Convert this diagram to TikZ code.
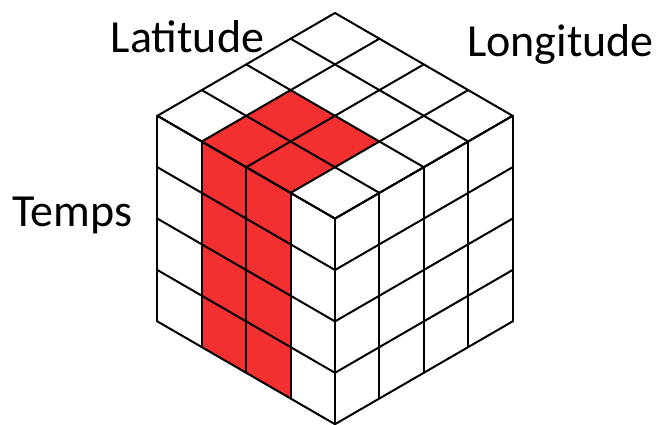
\documentclass[tikz,border=0pt]{standalone}
\usepackage{fontspec}
\setmainfont{Carlito}
\usepackage{tikz}
\definecolor{CubeRed}{RGB}{242,48,48}
\definecolor{CubeLine}{HTML}{000000}

\begin{document}
\begin{tikzpicture}[x={(-44.4pt,-25.7pt)}, y={(44.4pt,-25.7pt)}, z={(0pt,-51.4pt)},
  grid/.style={draw=CubeLine, line width=2pt, line join=round, line cap=round},
  slice/.style={fill=CubeRed},
  axislabel/.style={inner sep=0pt, anchor=base, font=\fontsize{46}{55}\selectfont}]
  \path[use as bounding box] (-335pt,13pt) rectangle (332pt,-412pt);
  % selected column
  \fill[slice] (2,1,0) -- (2,3,0) -- (4,3,0) -- (4,1,0) -- cycle;
  \fill[slice] (4,1,0) -- (4,3,0) -- (4,3,4) -- (4,1,4) -- cycle;
  % grid on the three visible faces
  \foreach \n in {0,...,4} {
    \draw[grid] (\n,0,0) -- (\n,4,0);
    \draw[grid] (0,\n,0) -- (4,\n,0);
    \draw[grid] (4,\n,0) -- (4,\n,4);
    \draw[grid] (4,0,\n) -- (4,4,\n);
    \draw[grid] (\n,4,0) -- (\n,4,4);
    \draw[grid] (0,4,\n) -- (4,4,\n);
  }
  \node[axislabel] (lat) at (-147.5pt,-40pt) {Latitude};
  \node[axislabel] (lon) at (225.5pt,-43.5pt) {Longitude};
  \node[axislabel] (time) at (-262.5pt,-213.5pt) {Temps};
\end{tikzpicture}
\end{document}
